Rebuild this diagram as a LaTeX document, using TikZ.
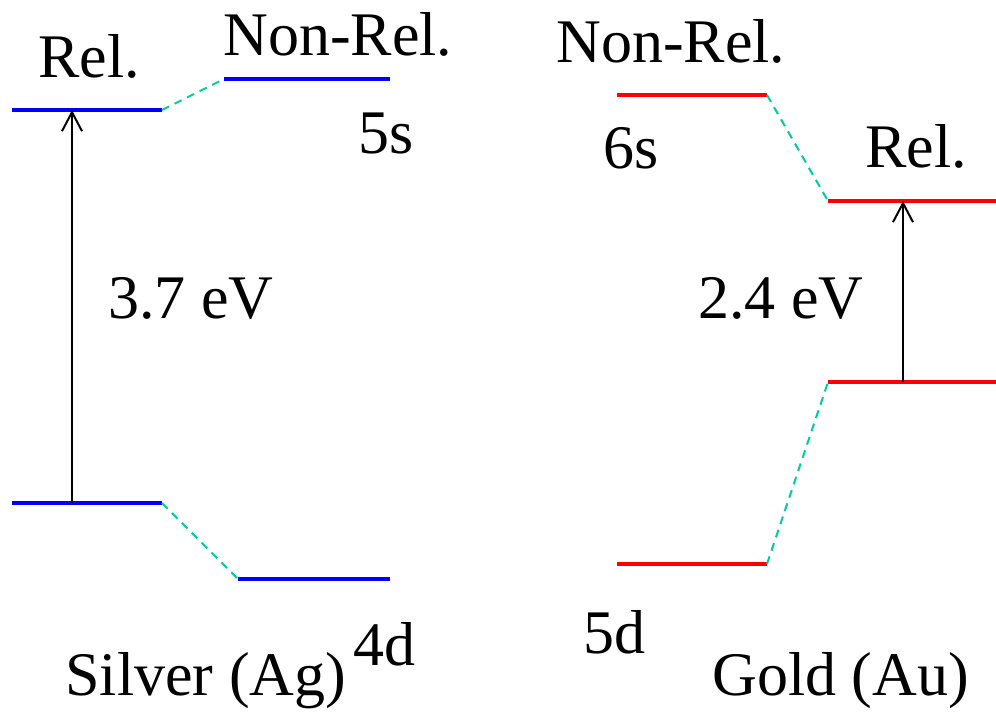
\documentclass[tikz,border=0pt]{standalone}
\usepackage{fontspec}
\setmainfont{Liberation Serif}
\usetikzlibrary{arrows.meta}
\definecolor{agblue}{HTML}{0000FF}
\definecolor{aured}{HTML}{FF0000}
\definecolor{lnkgreen}{HTML}{00CC99}

\begin{document}
\begin{tikzpicture}[x=0.5pt,y=-0.5pt,
  level/.style={line width=2pt},
  lnk/.style={lnkgreen,line width=1pt,dash pattern=on 4pt off 3pt},
  gap/.style={-{Straight Barb[length=9.5pt,width=10pt]},line width=1pt},
  lab/.style={anchor=base west,inner sep=0pt,font=\fontsize{31}{35}\selectfont}]
\useasboundingbox (0,0) rectangle (996,718);
% silver levels
\coordinate (agsR1) at (12,110);  \coordinate (agsR2) at (162,110);
\coordinate (agsN1) at (224,79);  \coordinate (agsN2) at (390,79);
\coordinate (agdR1) at (12,503);  \coordinate (agdR2) at (162,503);
\coordinate (agdN1) at (238,579); \coordinate (agdN2) at (390,579);
\coordinate (agtop) at (72,110);  \coordinate (agbot) at (72,503);
% gold levels
\coordinate (ausN1) at (617,95);  \coordinate (ausN2) at (767,95);
\coordinate (ausR1) at (828,201); \coordinate (ausR2) at (996,201);
\coordinate (audN1) at (617,564); \coordinate (audN2) at (767,564);
\coordinate (audR1) at (828,382); \coordinate (audR2) at (996,382);
\coordinate (autop) at (903,201); \coordinate (aubot) at (903,382);

\draw[level,agblue] (agsR1) -- (agsR2) (agsN1) -- (agsN2)
  (agdR1) -- (agdR2) (agdN1) -- (agdN2);
\draw[level,aured] (ausN1) -- (ausN2) (ausR1) -- (ausR2)
  (audN1) -- (audN2) (audR1) -- (audR2);
\draw[lnk] (agsR2) -- (agsN1);
\draw[lnk] (agdR2) -- (agdN1);
\draw[lnk] (ausN2) -- (ausR1);
\draw[lnk] (audN2) -- (audR1);
\draw[gap] (agbot) -- (agtop);
\draw[gap] (aubot) -- (autop);

\node[lab] (agrel) at (38,77) {Rel.};
\node[lab] (agnon) at (223,55) {Non-Rel.};
\node[lab] (ags) at (358,153) {5s};
\node[lab] (agd) at (353,665) {4d};
\node[lab] (aggap) at (108,318) {3.7 eV};
\node[lab] (agname) at (65,695) {Silver (Ag)};
\node[lab] (aunon) at (556,62) {Non-Rel.};
\node[lab] (aus) at (603,168) {6s};
\node[lab] (aurel) at (865,167) {Rel.};
\node[lab] (augap) at (698,318) {2.4 eV};
\node[lab] (aud) at (583,653) {5d};
\node[lab] (auname) at (712,695) {Gold (Au)};
\end{tikzpicture}
\end{document}
